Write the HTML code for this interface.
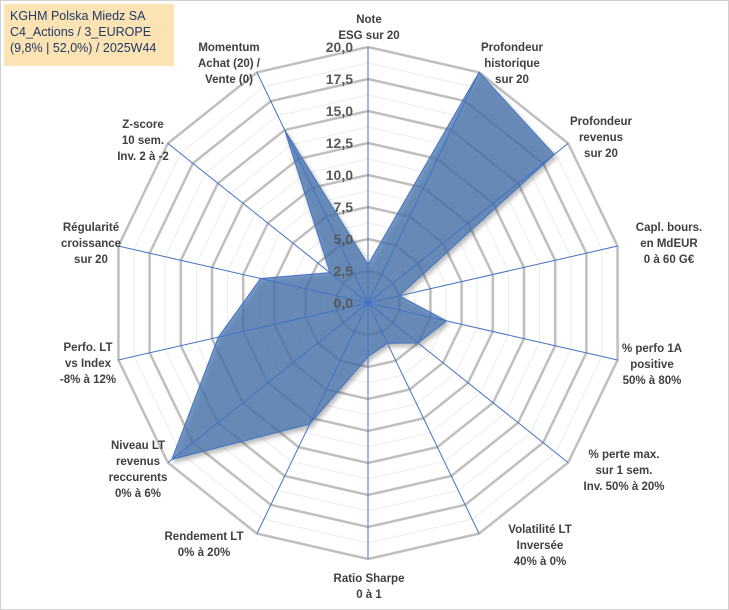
<!DOCTYPE html>
<html><head><meta charset="utf-8"><style>
body{margin:0;width:729px;height:610px;background:#fff;font-family:"Liberation Sans",sans-serif;overflow:hidden;position:relative}
.frame{position:absolute;left:0;top:0;width:727px;height:608px;border:1px solid #d0d0d0}
.title{position:absolute;left:4px;top:4px;width:170px;height:62px;background:#fbe3b3;color:#1f3864;font-size:12.5px;line-height:16px;padding:4px 0 0 6px;box-sizing:border-box}
.lab{position:absolute;transform:translate(-50%,0);text-align:center;font-size:11.5px;font-weight:bold;color:#404040;line-height:16px;white-space:nowrap}
</style></head><body>
<div class="frame"></div>
<svg id="chart" width="729" height="610" style="position:absolute;left:0;top:0"></svg>
<div class="title">KGHM Polska Miedz SA<br>C4_Actions / 3_EUROPE<br>(9,8% | 52,0%) / 2025W44</div>
<div id="labels"></div>
<script>
const categories=["Note|ESG sur 20","Profondeur|historique|sur 20","Profondeur|revenus|sur 20","Capl. bours.|en MdEUR|0 à 60 G€","% perfo 1A|positive|50% à 80%","% perte max.|sur 1 sem.|Inv. 50% à 20%","Volatilité LT|Inversée|40% à 0%","Ratio Sharpe|0 à 1","Rendement LT|0% à 20%","Niveau LT|revenus|reccurents|0% à 6%","Perfo. LT|vs Index|-8% à 12%","Régularité|croissance|sur 20","Z-score|10 sem.|Inv. 2 à -2","Momentum|Achat (20) /|Vente (0)"];
const values=[3,20,18.6,2.5,6.3,5,3.5,4.2,10.5,19.6,12,8.6,3.8,15];
const ticks=[0,2.5,5,7.5,10,12.5,15,17.5,20];
const tickLabels=["0,0","2,5","5,0","7,5","10,0","12,5","15,0","17,5","20,0"];
const labelPos=[[369,12],[512,40],[601,114],[669,220],[652,341],[624,447],[540,522],[369,571],[204,529],[138,438],[88,340],[91,220],[143,117],[229,40]];
const cx=368,cy=303,R=256,maxV=20,N=categories.length;
const svg=document.getElementById('chart');const NS="http://www.w3.org/2000/svg";
function ang(i){return i*2*Math.PI/N;}
function pt(i,v){const r=v/maxV*R;return [cx+r*Math.sin(ang(i)),cy-r*Math.cos(ang(i))];}
function poly(v){let s=[];for(let i=0;i<N;i++)s.push(pt(i,v).join(','));return s.join(' ');}
for(let k=0;k<8;k++){const v=1.25+k*2.5;const p=document.createElementNS(NS,'polygon');


p.setAttribute('points',poly(v));p.setAttribute('fill','none');p.setAttribute('stroke','#ececec');p.setAttribute('stroke-width','1');svg.appendChild(p);}
for(let k=1;k<ticks.length;k++){const p=document.createElementNS(NS,'polygon');


p.setAttribute('points',poly(ticks[k]));p.setAttribute('fill','none');p.setAttribute('stroke','#bfbfbf');p.setAttribute('stroke-width','2.5');svg.appendChild(p);}
const ser=document.createElementNS(NS,'polygon');


ser.setAttribute('points',values.map((v,i)=>pt(i,v).join(',')).join(' '));
ser.setAttribute('fill','#4a78b4');ser.setAttribute('fill-opacity','0.75');ser.setAttribute('stroke','#4472c4');ser.setAttribute('stroke-width','1');
ser.setAttribute('style','filter:drop-shadow(2px 3px 2px rgba(0,0,0,0.35))');svg.appendChild(ser);
for(let i=0;i<N;i++){const e=pt(i,maxV);const l=document.createElementNS(NS,'line');


l.setAttribute('x1',cx);l.setAttribute('y1',cy);l.setAttribute('x2',e[0]);l.setAttribute('y2',e[1]);l.setAttribute('stroke','#4472c4');l.setAttribute('stroke-width','1');svg.appendChild(l);}
for(let k=0;k<ticks.length;k++){const t=document.createElementNS(NS,'text');


t.setAttribute('x',cx-15);t.setAttribute('y',cy-ticks[k]/maxV*R+5);t.setAttribute('text-anchor','end');
t.setAttribute('font-size','14');t.setAttribute('font-weight','bold');t.setAttribute('fill','#595959');t.setAttribute('font-family','Liberation Sans, sans-serif');
t.textContent=tickLabels[k];svg.appendChild(t);}
const lw=document.getElementById('labels');
categories.forEach((c,i)=>{const d=document.createElement('div');


d.className='lab';d.style.left=labelPos[i][0]+'px';d.style.top=labelPos[i][1]+'px';d.innerHTML=c.split('|').join('<br>');lw.appendChild(d);});
</script>
</body></html>
